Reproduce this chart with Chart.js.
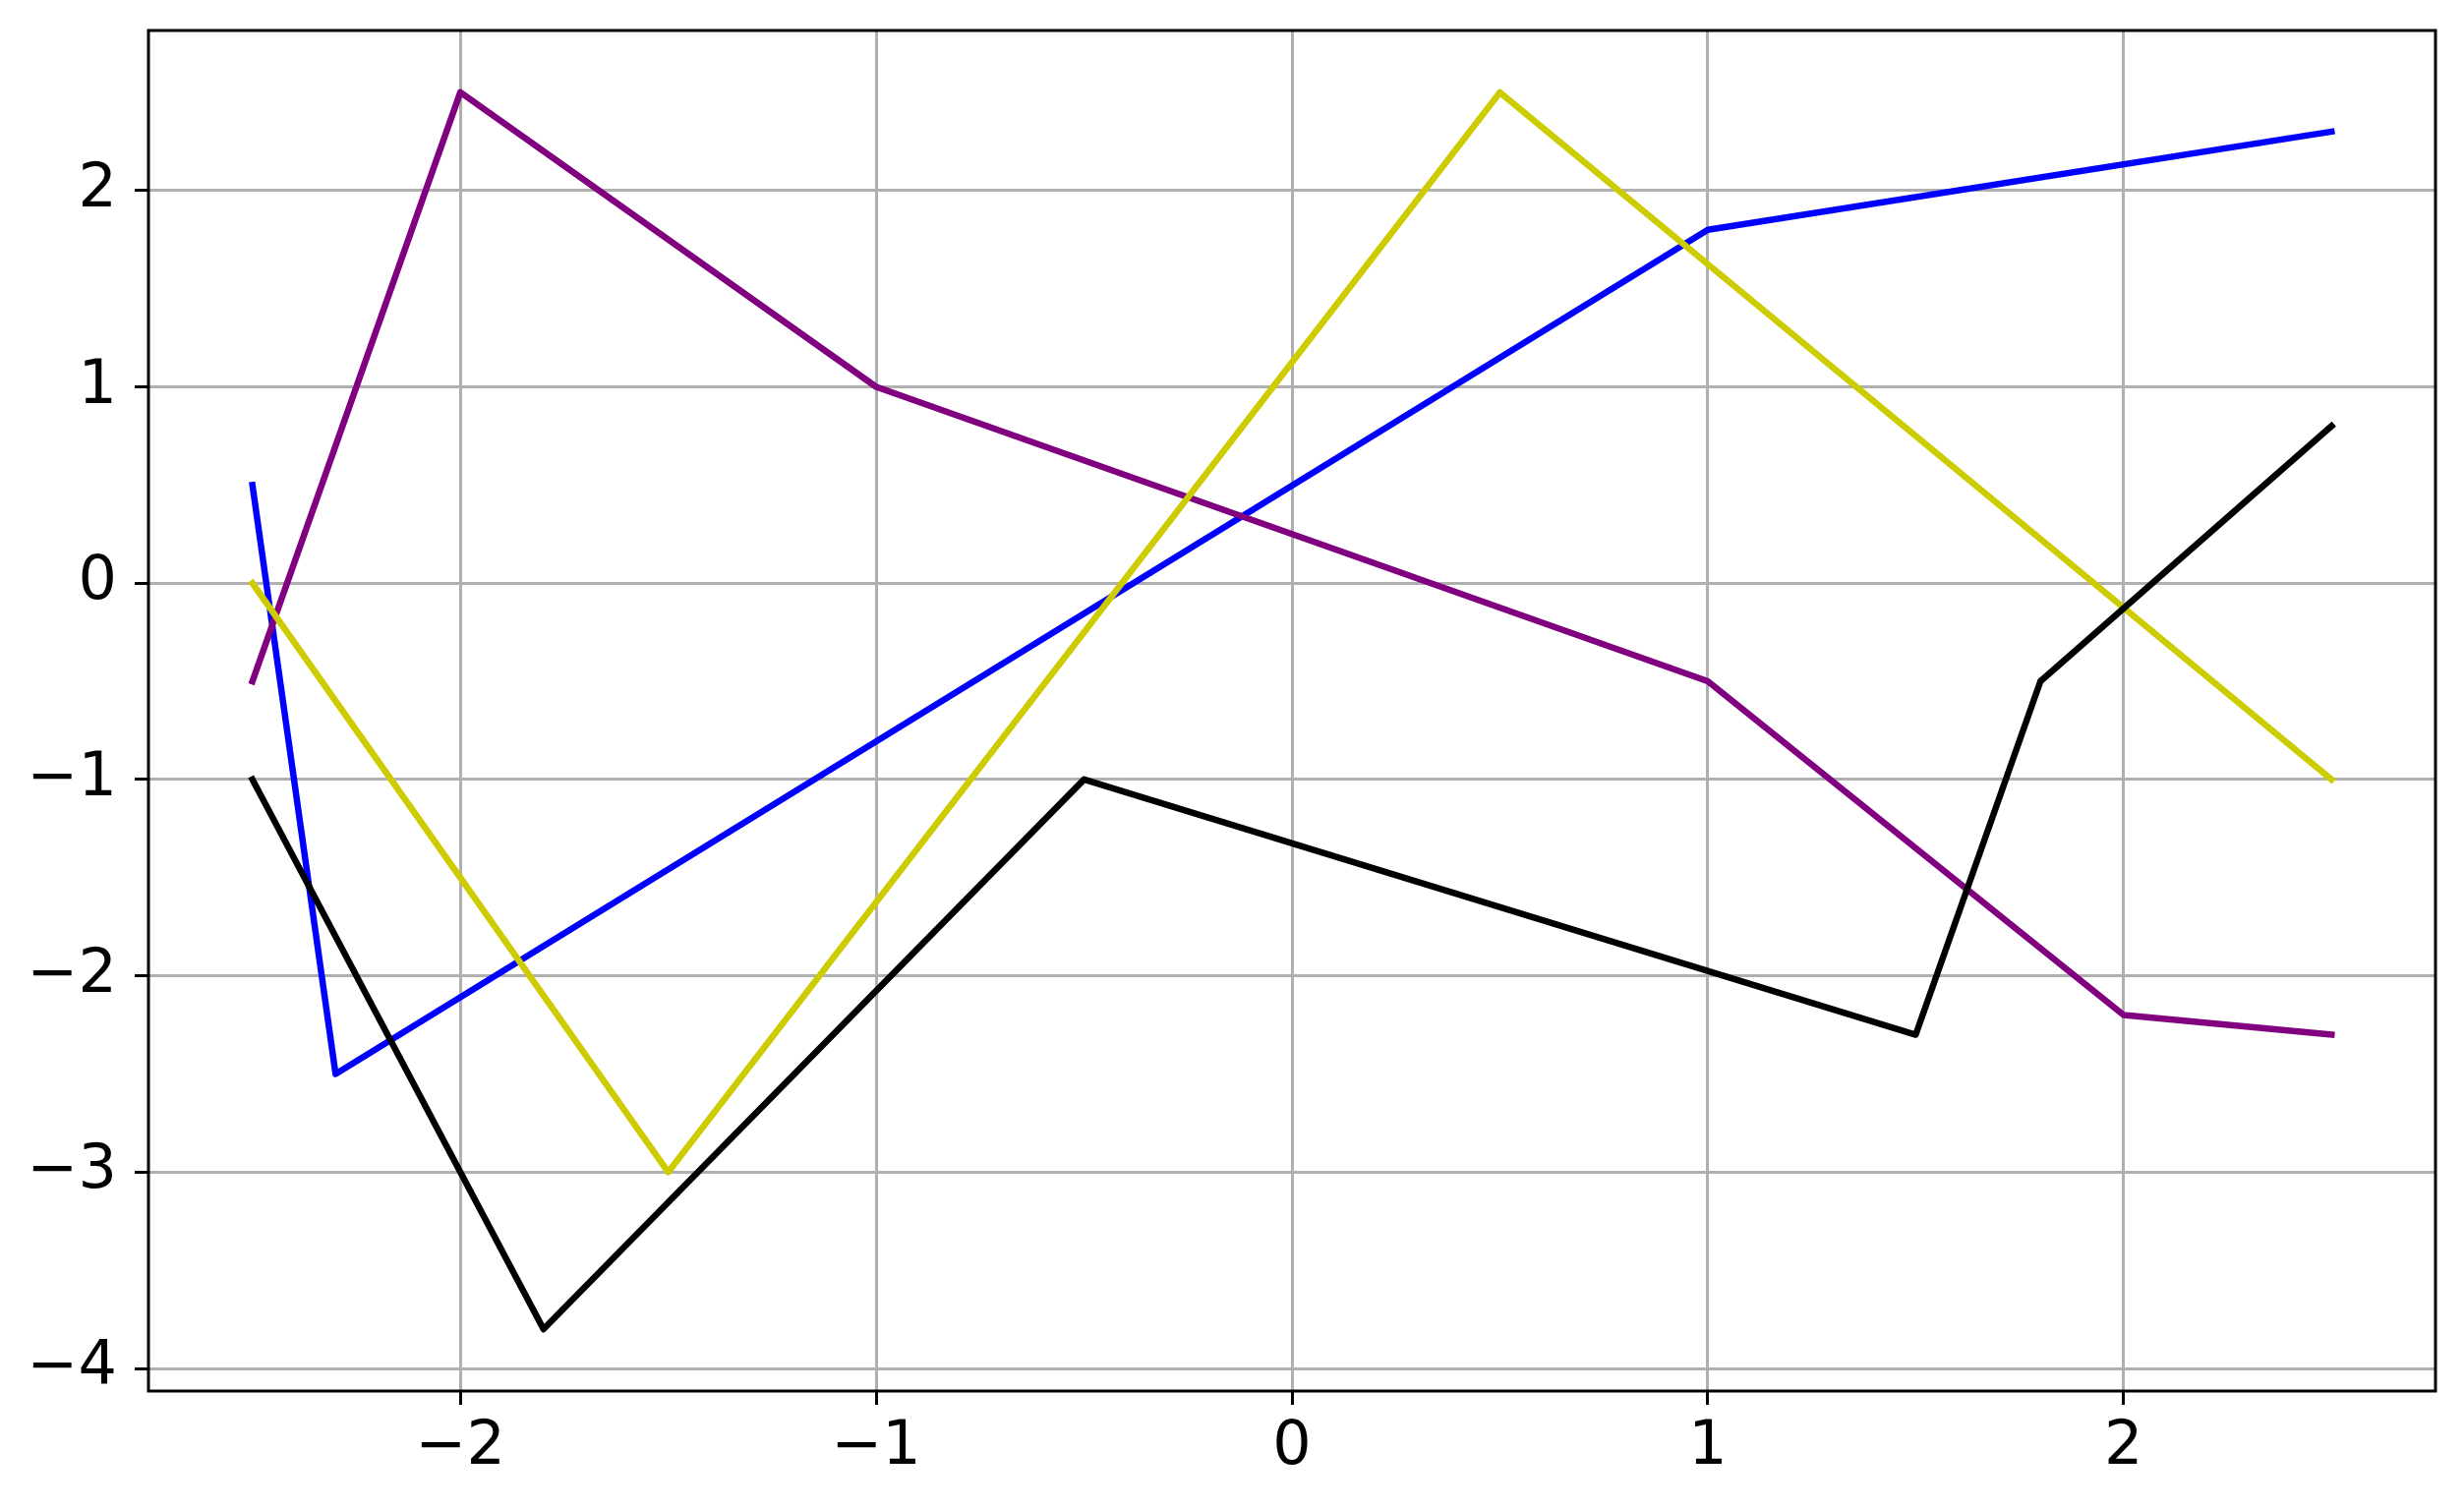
<!DOCTYPE html>
<html>
<head>
<meta charset="utf-8">
<script src="https://cdn.jsdelivr.net/npm/chart.js@4.4.0/dist/chart.umd.min.js"></script>
<style>
  html, body { margin: 0; padding: 0; background: #fff; }
  canvas { display: block; }
</style>
</head>
<body>
<canvas id="grafico" width="2506" height="1535"></canvas>
<script>
// datos
const blueX = [-2.5, -2.3, 1.0, 2.5];
const blueY = [0.5, -2.5, 1.8, 2.3];
const purpleX = [-2.5, -2.0, -1.0, 1.0, 2.0, 2.5];
const purpleY = [-0.5, 2.5, 1.0, -0.5, -2.2, -2.3];
const yellowX = [-2.5, -1.5, 0.5, 2.5];
const yellowY = [0.0, -3.0, 2.5, -1.0];
const blackX = [-2.5, -1.8, -0.5, 1.5, 1.8, 2.5];
const blackY = [-1.0, -3.8, -1.0, -2.3, -0.5, 0.8];

const xTicks = [-2, -1, 0, 1, 2];
const yTicks = [-4, -3, -2, -1, 0, 1, 2];

function puntos(xs, ys) { return xs.map((x, i) => ({ x: x, y: ys[i] })); }
function etiqueta(v) { return v < 0 ? "\u2212" + Math.abs(v) : String(v); }

const marco = {
  id: "marco",
  afterDraw(chart) {
    const a = chart.chartArea, ctx = chart.ctx;
    ctx.save();
    ctx.strokeStyle = "#000";
    ctx.lineWidth = 3;
    ctx.strokeRect(a.left, a.top, a.right - a.left, a.bottom - a.top);
    ctx.restore();
  }
};

function serie(xs, ys, color, orden) {
  return { data: puntos(xs, ys), borderColor: color, borderWidth: 6.5, pointRadius: 0,
           fill: false, tension: 0, borderJoinStyle: "round", borderCapStyle: "square", order: orden };
}

const fuente = { family: "DejaVu Sans", size: 62 };

new Chart(document.getElementById("grafico").getContext("2d"), {
  type: "line",
  data: {
    datasets: [
      serie(blueX, blueY, "#0000ff", 4),
      serie(purpleX, purpleY, "#800080", 3),
      serie(yellowX, yellowY, "#cccc00", 2),
      serie(blackX, blackY, "#000000", 1)
    ]
  },
  options: {
    responsive: false,
    animation: false,
    devicePixelRatio: 1,
    layout: { padding: { top: 31, right: 29, left: 0, bottom: 0 } },
    plugins: { legend: { display: false }, tooltip: { enabled: false } },
    scales: {
      x: {
        type: "linear", min: -2.75, max: 2.75,
        afterBuildTicks: s => { s.ticks = xTicks.map(v => ({ value: v })); },
        afterFit: s => { s.height = 120; s.paddingLeft = 0; s.paddingRight = 0; },
        grid: { color: "#b0b0b0", lineWidth: 3, tickColor: "#000", tickWidth: 3, tickLength: 14 },
        border: { display: false },
        ticks: { font: fuente, color: "#000", padding: 7, maxRotation: 0, callback: etiqueta }
      },
      y: {
        type: "linear", min: -4.115, max: 2.815,
        afterBuildTicks: s => { s.ticks = yTicks.map(v => ({ value: v })); },
        afterFit: s => { s.width = 151; s.paddingTop = 0; s.paddingBottom = 0; },
        grid: { color: "#b0b0b0", lineWidth: 3, tickColor: "#000", tickWidth: 3, tickLength: 14 },
        border: { display: false },
        ticks: { font: fuente, color: "#000", padding: 18, callback: etiqueta }
      }
    }
  },
  plugins: [marco]
});
</script>
</body>
</html>
